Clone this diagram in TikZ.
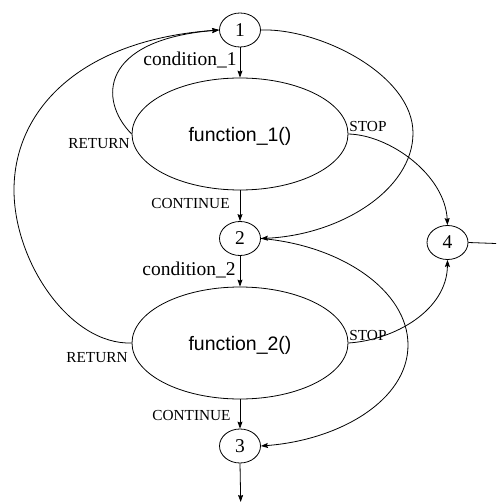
\documentclass[tikz,border=0pt]{standalone}
\usepackage{fontspec}
\setmainfont{Liberation Serif}
\newfontfamily\funcfont{Liberation Sans}
\usetikzlibrary{shapes.geometric,arrows.meta}
\begin{document}
\begin{tikzpicture}[x=1pt,y=-1pt,line width=0.8pt,
  state/.style={ellipse,draw,inner sep=0pt,minimum width=41pt,minimum height=34pt,
    font=\fontsize{19.5}{20}\selectfont},
  func/.style={ellipse,draw,inner sep=0pt,minimum width=216pt,minimum height=112pt,
    text height=15pt,text depth=0pt,font=\funcfont\fontsize{19.5}{20}\selectfont},
  cond/.style={inner sep=0pt,font=\fontsize{19.5}{20}\selectfont},
  tag/.style={inner sep=0pt,font=\fontsize{15.3}{16}\selectfont},
  flow/.style={-{Stealth[length=7pt,width=5pt,inset=1pt]}}]
\fill[white] (0,0) rectangle (496,502);
\useasboundingbox (0,0) rectangle (496,502);

% states and functions
\node[state] (n1) at (240,30) {1};
\node[func]  (f1) at (240,134) {function\_1()};
\node[state] (n2) at (240,238.5) {2};
\node[func]  (f2) at (240,343) {function\_2()};
\node[state] (n3) at (240,446) {3};
\node[state] (n4) at (447.5,242.5) {4};
\coordinate (out3) at (240.7,502);
\coordinate (out4) at (496,243.5);

% straight transitions
\draw[flow] (n1.south) -- (f1.north);
\draw[flow] (f1.south) -- (n2.north);
\draw[flow] (n2.south) -- (f2.north);
\draw[flow] (f2.south) -- (n3.north);
\draw[flow] (n3.south) -- (out3);
\draw (n4.east) -- (out4);

% RETURN loops back to state 1
\draw[flow] (f1.west) .. controls (98,100) and (100,40) .. (n1.west);
\draw[flow] (f2.west) .. controls (70,345) and (14,262) .. (14,190)
  .. controls (14,110) and (80,40) .. (n1.west);

% skips past a function
\draw[flow] (n1.east) .. controls (320,28) and (413,75) .. (413,133)
  .. controls (413,190) and (340,235) .. (n2.east);
\draw[flow] (n2.east) .. controls (340,245) and (408,290) .. (408,345)
  .. controls (408,400) and (340,440) .. (n3.east);

% STOP exits to state 4
\draw[flow] (f1.east) .. controls (390,135) and (445,175) .. (n4.north);
\draw[flow] (f2.east) .. controls (395,340) and (447,310) .. (n4.south);

% transition labels
\node[cond,anchor=base east] (c1) at (237,66) {condition\_1};
\node[cond,anchor=base east] (c2) at (236,275.5) {condition\_2};
\node[tag,anchor=base east] (r1) at (130,149) {RETURN};
\node[tag,anchor=base east] (k1) at (230,209) {CONTINUE};
\node[tag,anchor=base west] (s1) at (349,132) {STOP};
\node[tag,anchor=base east] (r2) at (128,362) {RETURN};
\node[tag,anchor=base west] (s2) at (349,340) {STOP};
\node[tag,anchor=base east] (k2) at (231,420) {CONTINUE};
\end{tikzpicture}
\end{document}
